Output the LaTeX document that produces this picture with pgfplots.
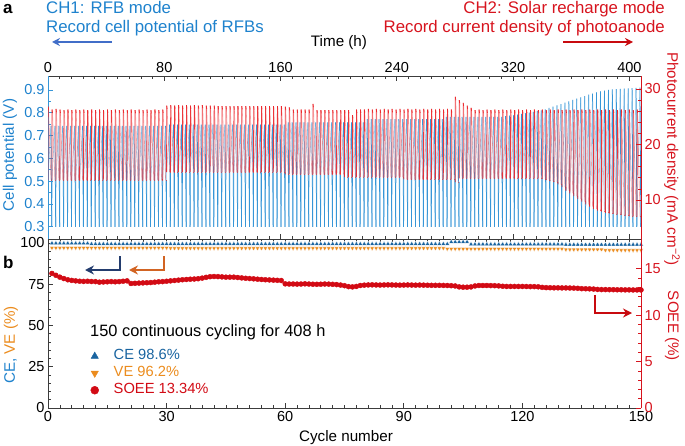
\documentclass[border=0pt]{standalone}
\usepackage{pgfplots}
\pgfplotsset{compat=1.18}
\usepackage{pgfplotstable}
\usepackage{fontspec}
\setmainfont{Liberation Sans}
\usetikzlibrary{arrows.meta}
\definecolor{lblue}{RGB}{55,150,215}
\definecolor{lred}{RGB}{235,35,40}
\definecolor{tblue}{RGB}{30,130,205}
\definecolor{tred}{RGB}{215,20,30}
\definecolor{ceblue}{RGB}{25,100,160}
\definecolor{veorange}{RGB}{235,140,30}
\definecolor{soeered}{RGB}{210,10,20}
\definecolor{arrblue}{RGB}{65,110,200}
\definecolor{arrnavy}{RGB}{35,60,110}
\definecolor{arrorange}{RGB}{210,100,35}
\definecolor{arrred}{RGB}{200,10,15}
\definecolor{axgray}{RGB}{60,60,60}

% c: cycle, t: start time (h), bp: blue peak (V), bm: blue level after discharge (V),
% rt: photocurrent top, rl: photocurrent low (mA cm-2), ce, ve (%), so: SOEE (%)
\pgfplotstableread{
c t bp bm rt rl ce ve so
1 0 0.742 0.505 26.8 13.6 99.8 97.0 14.50
2 2.72 0.742 0.505 26.3 13.6 99.8 97.0 14.30
3 5.44 0.742 0.505 26.4 13.6 99.8 97.0 14.10
4 8.16 0.742 0.505 26.3 13.6 99.8 97.0 13.95
5 10.88 0.742 0.505 26.2 13.6 99.8 97.0 13.82
6 13.60 0.742 0.505 26.3 13.6 99.8 97.0 13.75
7 16.32 0.742 0.505 26.2 13.6 99.8 97.0 13.70
8 19.04 0.742 0.505 26.3 13.6 99.8 97.0 13.66
9 21.76 0.742 0.505 26.2 13.6 99.8 97.0 13.64
10 24.48 0.742 0.505 26.3 13.6 99.8 97.0 13.66
11 27.20 0.742 0.505 26.2 13.6 99.4 97.0 13.63
12 29.92 0.742 0.505 26.3 13.6 99.4 97.0 13.62
13 32.64 0.742 0.505 26.2 13.6 99.4 97.0 13.56
14 35.36 0.742 0.505 26.3 13.6 99.4 97.0 13.58
15 38.08 0.742 0.505 26.2 13.6 99.4 97.0 13.60
16 40.80 0.742 0.505 26.3 13.6 99.4 97.0 13.62
17 43.52 0.742 0.505 26.2 13.6 99.4 97.0 13.60
18 46.24 0.742 0.505 26.3 13.6 99.4 97.0 13.62
19 48.96 0.742 0.505 26.2 13.6 99.4 97.0 13.66
20 51.68 0.742 0.505 26.3 13.6 99.4 97.0 13.70
21 54.40 0.742 0.505 26.2 13.6 99.4 97.0 13.42
22 57.12 0.742 0.505 26.3 13.6 99.4 97.0 13.44
23 59.84 0.742 0.505 26.2 13.6 99.4 97.0 13.46
24 62.56 0.742 0.505 26.3 13.6 99.4 97.0 13.48
25 65.28 0.742 0.505 26.2 13.6 99.4 97.0 13.50
26 68.00 0.742 0.505 26.3 13.6 99.4 97.0 13.52
27 70.72 0.742 0.505 26.2 13.6 99.4 97.0 13.56
28 73.44 0.742 0.505 26.3 13.6 99.4 97.0 13.60
29 76.16 0.742 0.505 26.2 13.6 99.4 97.0 13.62
30 78.88 0.742 0.505 26.3 13.6 99.4 97.0 13.66
31 81.60 0.748 0.539 27.0 15.0 99.4 96.8 13.70
32 84.32 0.748 0.539 27.1 15.0 99.4 96.8 13.74
33 87.04 0.748 0.539 27.0 15.0 99.4 96.8 13.78
34 89.76 0.748 0.539 27.1 15.0 99.4 96.8 13.82
35 92.48 0.748 0.539 27.0 15.0 99.4 96.8 13.85
36 95.20 0.748 0.539 27.1 15.0 99.4 96.8 13.88
37 97.92 0.748 0.539 27.0 15.0 99.4 96.8 13.90
38 100.64 0.748 0.539 27.1 15.0 99.4 96.8 13.93
39 103.36 0.748 0.539 27.0 15.0 99.4 96.8 14.00
40 106.08 0.748 0.539 27.1 15.0 99.4 96.8 14.08
41 108.80 0.748 0.539 27.0 15.0 99.4 96.8 14.15
42 111.52 0.748 0.539 27.0 15.0 99.4 96.8 14.17
43 114.24 0.748 0.539 27.0 15.0 99.4 96.8 14.16
44 116.96 0.748 0.539 26.9 15.0 99.4 96.8 14.13
45 119.68 0.748 0.539 26.9 15.0 99.4 96.8 14.10
46 122.40 0.748 0.539 26.9 15.0 99.4 96.8 14.10
47 125.12 0.748 0.539 26.9 15.0 99.4 96.8 14.10
48 127.84 0.748 0.539 26.9 15.0 99.4 96.8 14.06
49 130.56 0.748 0.539 26.9 15.0 99.4 96.8 14.02
50 133.28 0.748 0.539 26.9 15.0 99.4 96.8 13.98
51 136.00 0.748 0.539 26.9 15.0 99.4 96.8 13.95
52 138.72 0.748 0.539 26.9 15.0 99.4 96.8 13.92
53 141.44 0.748 0.539 26.9 15.0 99.4 96.8 13.88
54 144.16 0.748 0.539 26.9 15.0 99.4 96.8 13.85
55 146.88 0.748 0.539 26.9 15.0 99.4 96.8 13.82
56 149.60 0.748 0.539 26.9 15.0 99.4 96.8 13.80
57 152.32 0.748 0.539 26.9 15.0 99.4 96.8 13.78
58 155.04 0.748 0.539 26.9 15.0 99.4 96.8 13.76
59 157.76 0.748 0.539 26.9 15.0 99.4 96.8 13.74
60 160.48 0.748 0.539 26.9 15.0 99.4 96.8 13.38
61 163.20 0.758 0.528 26.8 14.6 99.4 96.8 13.36
62 165.92 0.758 0.528 26.7 14.6 99.4 96.8 13.36
63 168.64 0.758 0.528 26.3 14.6 99.4 96.8 13.35
64 171.36 0.758 0.528 26.3 14.6 99.4 96.8 13.36
65 174.08 0.758 0.528 26.3 14.6 99.4 96.8 13.38
66 176.80 0.758 0.528 26.3 14.6 99.4 96.8 13.36
67 179.52 0.758 0.528 26.3 14.6 99.4 96.8 13.34
68 182.24 0.758 0.528 27.3 14.6 99.4 96.8 13.33
69 184.96 0.758 0.528 26.2 14.6 99.4 96.8 13.34
70 187.68 0.758 0.528 26.2 14.6 99.4 96.8 13.36
71 190.40 0.758 0.528 26.2 14.6 99.4 96.8 13.35
72 193.12 0.758 0.528 26.2 14.6 99.4 96.8 13.33
73 195.84 0.758 0.528 26.2 14.6 99.4 96.8 13.30
74 198.56 0.758 0.528 26.2 14.6 99.4 96.8 13.25
75 201.28 0.758 0.528 26.2 14.6 99.4 96.8 13.18
76 204.00 0.758 0.517 26.2 14.1 99.4 96.8 13.08
77 206.72 0.758 0.517 26.2 14.1 99.4 96.8 13.05
78 209.44 0.758 0.517 25.3 14.1 99.4 96.8 13.10
79 212.16 0.758 0.517 26.3 14.1 99.4 96.8 13.20
80 214.88 0.758 0.517 26.3 14.1 99.4 96.8 13.24
81 217.60 0.772 0.517 26.3 14.1 99.4 96.8 13.26
82 220.32 0.772 0.517 26.4 14.1 99.4 96.8 13.27
83 223.04 0.772 0.517 26.3 14.1 99.4 96.8 13.26
84 225.76 0.772 0.517 26.4 14.1 99.4 96.8 13.25
85 228.48 0.772 0.517 26.3 14.1 99.4 96.8 13.26
86 231.20 0.772 0.517 26.4 14.1 99.4 96.8 13.27
87 233.92 0.772 0.517 26.3 14.1 99.4 96.8 13.26
88 236.64 0.772 0.517 26.4 14.1 99.4 96.8 13.25
89 239.36 0.772 0.517 26.3 14.1 99.4 96.8 13.24
90 242.08 0.772 0.517 26.4 14.1 99.4 96.8 13.25
91 244.80 0.772 0.508 26.3 13.7 99.4 96.8 13.26
92 247.52 0.772 0.508 26.4 13.7 99.4 96.8 13.25
93 250.24 0.772 0.508 26.3 13.7 99.4 96.8 13.24
94 252.96 0.772 0.508 26.4 13.7 99.4 96.8 13.25
95 255.68 0.772 0.508 26.3 13.7 99.4 96.8 13.24
96 258.40 0.772 0.508 26.4 13.7 99.4 96.8 13.23
97 261.12 0.772 0.508 26.3 13.7 99.4 96.8 13.22
98 263.84 0.772 0.508 26.4 13.7 99.4 96.8 13.22
99 266.56 0.772 0.508 26.3 13.7 99.4 96.8 13.22
100 269.28 0.772 0.508 26.4 13.7 99.4 96.8 13.21
101 272.00 0.782 0.508 26.3 13.7 99.4 96.4 13.20
102 274.72 0.782 0.508 26.4 13.7 100.6 96.4 13.18
103 277.44 0.782 0.508 26.3 13.7 100.6 96.4 13.15
104 280.16 0.782 0.496 28.6 13.2 100.6 96.4 13.05
105 282.88 0.782 0.512 28.0 13.9 100.6 96.4 13.02
106 285.60 0.782 0.512 27.5 13.9 100.6 96.4 13.02
107 288.32 0.782 0.512 27.0 13.9 99.2 96.4 13.05
108 291.04 0.782 0.512 26.6 13.9 99.2 96.4 13.15
109 293.76 0.782 0.512 26.2 13.9 99.2 96.4 13.20
110 296.48 0.782 0.512 26.3 13.9 99.2 96.4 13.20
111 299.20 0.782 0.512 26.2 13.9 99.2 96.4 13.20
112 301.92 0.782 0.512 26.3 13.9 99.2 96.4 13.19
113 304.64 0.782 0.512 26.2 13.9 99.2 96.4 13.18
114 307.36 0.782 0.512 26.3 13.9 99.2 96.4 13.16
115 310.08 0.782 0.512 26.2 13.9 99.2 96.4 13.12
116 312.80 0.785 0.512 26.3 13.9 99.2 96.4 13.10
117 315.52 0.787 0.512 26.2 13.9 99.2 96.4 13.10
118 318.24 0.789 0.512 26.3 13.9 99.2 96.4 13.10
119 320.96 0.792 0.512 26.2 13.9 99.2 96.4 13.10
120 323.68 0.795 0.512 26.3 13.9 99.2 96.4 13.10
121 326.40 0.798 0.512 26.2 13.9 99.2 96.4 13.09
122 329.12 0.801 0.512 26.3 13.9 99.2 96.4 13.08
123 331.84 0.804 0.512 26.2 13.9 99.2 96.4 13.08
124 334.56 0.807 0.512 26.3 13.9 99.2 96.4 13.06
125 337.28 0.810 0.512 26.2 13.9 99.2 96.4 13.00
126 340.00 0.815 0.510 26.3 13.8 99.2 96.4 12.97
127 342.72 0.821 0.505 26.2 13.6 99.2 96.4 12.96
128 345.44 0.827 0.500 26.3 13.4 99.2 96.4 12.95
129 348.16 0.832 0.496 26.2 13.2 99.2 96.4 12.95
130 350.88 0.838 0.486 26.3 12.8 99.2 96.4 12.94
131 353.60 0.844 0.474 26.2 12.3 99.0 96.0 12.94
132 356.32 0.850 0.459 26.3 11.7 99.0 96.0 12.93
133 359.04 0.856 0.447 26.2 11.2 99.0 96.0 12.92
134 361.76 0.862 0.435 26.3 10.7 99.0 96.0 12.90
135 364.48 0.867 0.423 26.2 10.2 99.0 96.0 12.86
136 367.20 0.873 0.410 26.3 9.7 99.0 96.0 12.85
137 369.92 0.879 0.398 26.2 9.2 99.0 96.0 12.84
138 372.64 0.884 0.388 26.3 8.8 99.0 96.0 12.82
139 375.36 0.889 0.379 26.2 8.4 99.0 96.0 12.78
140 378.08 0.894 0.371 26.3 8.1 99.0 96.0 12.76
141 380.80 0.897 0.366 26.2 7.9 99.0 95.6 12.76
142 383.52 0.900 0.362 26.3 7.7 99.0 95.6 12.75
143 386.24 0.902 0.359 26.2 7.6 99.0 95.6 12.75
144 388.96 0.904 0.357 26.3 7.5 99.0 95.6 12.74
145 391.68 0.905 0.354 26.2 7.4 99.0 95.6 12.74
146 394.40 0.906 0.352 26.3 7.3 99.0 95.6 12.73
147 397.12 0.907 0.349 26.2 7.2 99.0 95.6 12.73
148 399.84 0.908 0.347 26.3 7.1 99.0 95.6 12.72
149 402.56 0.909 0.346 26.2 7.05 99.0 95.6 12.72
150 405.28 0.910 0.345 26.3 7.0 99.0 95.6 12.72
}\cyc

\begin{document}
\begin{tikzpicture}
\useasboundingbox (0pt,0pt) rectangle (685pt,445pt);
\pgfplotsset{
  every axis/.append style={
    scale only axis, width=593pt,
    font=\fontsize{14.5}{17}\selectfont,
    /pgf/number format/assume math mode=true,
    tick align=inside,
    major tick length=5pt, minor tick length=3pt,
    axis line style={line width=0.8pt, draw=axgray},
    tick style={line width=0.7pt, draw=axgray},
  }
}
% ---------------- panel a : cell potential ----------------
\begin{axis}[at={(48pt,205.7pt)}, anchor=south west, height=162.8pt,
  xmin=0, xmax=408, ymin=0.245, ymax=0.959,
  axis x line*=box, axis y line*=left,
  xtick={0,80,160,240,320,400}, minor x tick num=9, xticklabel pos=upper,
  ytick={0.3,0.4,0.5,0.6,0.7,0.8,0.9}, minor y tick num=1,
  yticklabel style={color=tblue, /pgf/number format/fixed, /pgf/number format/precision=1},
  y axis line style={draw=lblue},
  y tick style={draw=lblue},
]
\addplot[lblue, line width=0.6pt, mark=none, opacity=0.45, quiver={u=2.04, v=\thisrow{bp}-\thisrow{bm}}] table[x=t, y=bm]{\cyc};
\addplot[lblue, line width=0.75pt, mark=none, quiver={u=0.54, v=0.3-\thisrow{bp}}] table[x expr=\thisrow{t}+2.04, y=bp]{\cyc};
\addplot[lblue, line width=0.75pt, mark=none, quiver={u=0.14, v=\thisrow{bm}-0.3}] table[x expr=\thisrow{t}+2.58, y expr=0.3]{\cyc};
\end{axis}
% ---------------- panel a : photocurrent ----------------
\begin{axis}[at={(48pt,205.7pt)}, anchor=south west, height=162.8pt,
  xmin=0, xmax=408, ymin=2.92, ymax=32.25,
  axis x line=none, axis y line*=right,
  ytick={10,20,30}, minor y tick num=4,
  yticklabel style={color=tred},
  y axis line style={draw=tred},
  y tick style={draw=tred},
]
\addplot[lred, line width=0.8pt, mark=none, opacity=0.9, quiver={u=0.08, v=\thisrow{rt}-\thisrow{rl}}] table[x=t, y=rl]{\cyc};
\addplot[lred, line width=0.8pt, mark=none, opacity=0.9, quiver={u=0.32, v=-0.6}] table[x expr=\thisrow{t}+0.08, y=rt]{\cyc};
\addplot[lred, line width=0.6pt, mark=none, opacity=0.4, quiver={u=1.64, v=\thisrow{rl}-\thisrow{rt}+0.6}] table[x expr=\thisrow{t}+0.4, y expr=\thisrow{rt}-0.6]{\cyc};
\addplot[lred, line width=0.6pt, mark=none, opacity=0.6, quiver={u=0.68, v=0}] table[x expr=\thisrow{t}+2.04, y=rl]{\cyc};
\end{axis}
% ---------------- panel b : CE, VE ----------------
\begin{axis}[at={(48pt,37pt)}, anchor=south west, height=168.7pt,
  xmin=0, xmax=150, ymin=0, ymax=102.2,
  axis x line*=box, axis y line*=left,
  xtick={0,30,60,90,120,150}, minor x tick num=9, xticklabel pos=lower,
  ytick={0,25,50,75,100}, minor y tick num=4,
  legend image code/.code={\path[draw=none, fill=none] (0pt,-4pt) rectangle (27pt,4pt); \draw[#1] plot coordinates {(8pt,0pt)};},
  legend style={at={(0.065,0.351)}, anchor=north west, draw=none, fill=none,
    font=\fontsize{14.7}{17}\selectfont, inner sep=0pt, row sep=2.5pt,
    nodes={inner sep=0pt, text height=11pt, text depth=3.5pt}},
  legend cell align=left,
]
\addplot[forget plot, only marks, mark=triangle*, mark size=2.6pt, mark options={fill=ceblue, draw=white, line width=0.25pt}] table[x=c, y=ce]{\cyc};
\addplot[forget plot, only marks, mark=triangle*, mark size=2.6pt, mark options={rotate=180, fill=veorange, draw=white, line width=0.25pt}] table[x=c, y=ve]{\cyc};
\addlegendimage{only marks, mark=triangle*, mark size=4.2pt, color=ceblue}
\addlegendentry{\textcolor{ceblue}{CE 98.6\%}}
\addlegendimage{only marks, mark=triangle*, mark size=4.2pt, mark options={rotate=180}, color=veorange}
\addlegendentry{\textcolor{veorange}{VE 96.2\%}}
\addlegendimage{only marks, mark=*, mark size=4pt, color=soeered}
\addlegendentry{\textcolor{soeered}{SOEE 13.34\%}}
\end{axis}
% ---------------- panel b : SOEE ----------------
\begin{axis}[at={(48pt,37pt)}, anchor=south west, height=168.7pt,
  xmin=0, xmax=150, ymin=0, ymax=18.18,
  axis x line=none, axis y line*=right,
  ytick={0,5,10,15}, minor y tick num=4,
  yticklabel style={color=tred},
  y axis line style={draw=tred},
  y tick style={draw=tred},
]
\addplot[only marks, mark=*, mark size=2.5pt, color=soeered] table[x=c, y=so]{\cyc};
\end{axis}
% ---------------- texts and annotation arrows ----------------
\node[font=\bfseries\fontsize{17}{20}\selectfont, anchor=base west, inner sep=0pt] at (3pt,431.5pt) {a};
\node[font=\bfseries\fontsize{17}{20}\selectfont, anchor=base west, inner sep=0pt] at (3pt,177pt) {b};
\node[font=\fontsize{16.8}{20}\selectfont, anchor=base west, inner sep=0pt, text=tblue] at (46pt,431.5pt) {CH1: RFB mode};
\node[font=\fontsize{16.8}{20}\selectfont, anchor=base west, inner sep=0pt, text=tblue] at (46pt,412pt) {Record cell potential of RFBs};
\node[font=\fontsize{16.8}{20}\selectfont, anchor=base east, inner sep=0pt, text=tred] at (665pt,431.5pt) {CH2: Solar recharge mode};
\node[font=\fontsize{16.8}{20}\selectfont, anchor=base east, inner sep=0pt, text=tred] at (665pt,412pt) {Record current density of photoanode};
\draw[arrblue, line width=1.8pt, -{Stealth[length=8pt,width=8pt]}] (112pt,403pt) -- (52pt,403pt);
\draw[arrred, line width=1.8pt, -{Stealth[length=8pt,width=8pt]}] (563pt,403pt) -- (633pt,403pt);
\node[font=\fontsize{15.2}{18}\selectfont, anchor=base, inner sep=0pt] at (339pt,398.3pt) {Time (h)};
\node[font=\fontsize{15.2}{18}\selectfont, rotate=90, text=tblue, inner sep=0pt] at (10pt,290pt) {Cell potential (V)};
\node[font=\fontsize{15.2}{18}\selectfont, rotate=90, inner sep=0pt] at (11pt,100pt) {\textcolor{tblue}{CE,} \textcolor{veorange}{VE (\%)}};
\node[font=\fontsize{15.2}{18}\selectfont, rotate=-90, text=tred, inner sep=0pt] at (672pt,286pt) {Photocurrent density (mA cm\textsuperscript{−2})};
\node[font=\fontsize{15.2}{18}\selectfont, rotate=-90, text=tred, inner sep=0pt] at (672pt,119pt) {SOEE (\%)};
\node[font=\fontsize{15.2}{18}\selectfont, anchor=base, inner sep=0pt] at (346pt,3.5pt) {Cycle number};
\node[font=\fontsize{16.4}{20}\selectfont, anchor=base west, inner sep=0pt] at (90pt,108.3pt) {150 continuous cycling for 408 h};
\draw[arrnavy, line width=2.2pt, -{Stealth[length=9pt,width=9pt]}] (120pt,189pt) -- (120pt,175pt) -- (85pt,175pt);
\draw[arrorange, line width=2.2pt, -{Stealth[length=9pt,width=9pt]}] (164pt,189pt) -- (164pt,175pt) -- (129pt,175pt);
\draw[arrred, line width=2.2pt, -{Stealth[length=9pt,width=9pt]}] (595pt,150pt) -- (595pt,132pt) -- (632pt,132pt);
\end{tikzpicture}
\end{document}
